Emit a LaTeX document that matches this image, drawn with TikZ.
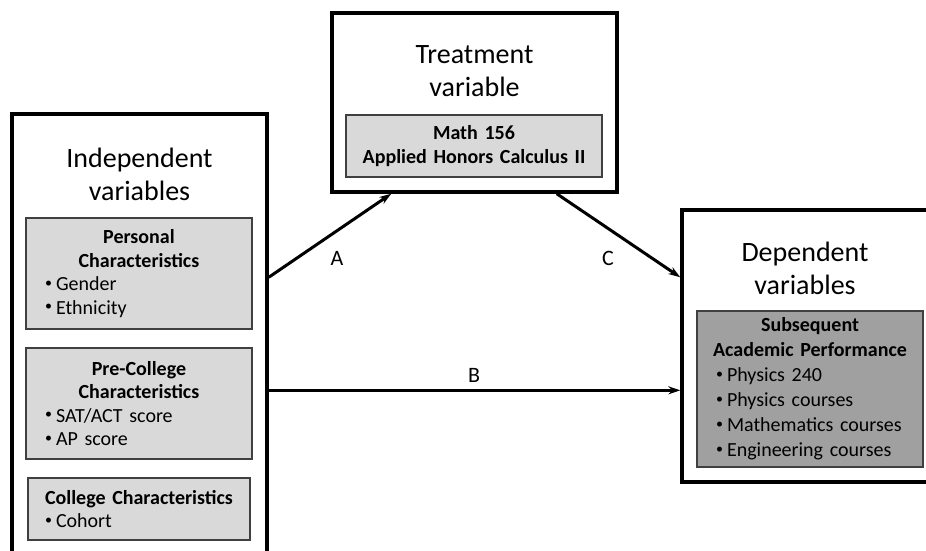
\documentclass[tikz,border=0pt]{standalone}
\usepackage{fontspec}
\setmainfont{Carlito}
\usetikzlibrary{arrows.meta}

\definecolor{boxlight}{HTML}{D9D9D9}
\definecolor{boxdark}{HTML}{A0A0A0}

% small list bullet
\newcommand{\blt}{\makebox[14pt][l]{\hspace{3pt}\raisebox{3.5pt}{\fontsize{14}{14}\selectfont•}}}

\begin{document}
\begin{tikzpicture}[x=1pt, y=-1pt,
      outerbox/.style={draw, line width=3.4pt, fill=white, inner sep=0pt},
      titletext/.style={font=\fontsize{28}{33}\selectfont, align=center},
      innerbox/.style={draw=black!75, line width=1.5pt, fill=boxlight, align=left,
        font=\fontsize{20}{23.5}\selectfont, inner xsep=16pt, inner ysep=0pt},
      flow/.style={line width=3pt, -{Stealth[length=12pt, width=8pt]}},
      pathlabel/.style={font=\fontsize{22}{26}\selectfont}
    ]

    \useasboundingbox (0,0) rectangle (926,550);
    \clip (0,0) rectangle (926,550);

    % Independent variables (runs off the bottom edge)
    \node[outerbox, minimum width=255pt, minimum height=490pt] (indep) at (139.5,359) {};
    \node[titletext] (indepT) at (139.5,174) {Independent\\variables};
    \node[innerbox, minimum width=226pt, minimum height=111pt, text width=194pt] (pers) at (139,273.5)
      {{\centering\bfseries Personal\\Characteristics\par}\blt Gender\\\blt Ethnicity\par\vspace*{6pt}};
    \node[innerbox, minimum width=226pt, minimum height=111pt, text width=194pt] (pre) at (139,403.5)
      {{\centering\bfseries Pre-College\\Characteristics\par}\blt SAT/ACT score\\\blt AP score\par\vspace*{6pt}};
    \node[innerbox, minimum width=222pt, minimum height=62pt, text width=194pt, inner xsep=14pt] (coll) at (139,509)
      {{\centering\bfseries College Characteristics\par}\blt Cohort};

    % Treatment variable
    \node[outerbox, minimum width=285pt, minimum height=179pt] (treat) at (474.5,102.5) {};
    \node[titletext] (treatT) at (474.5,71) {Treatment\\variable};
    \node[innerbox, minimum width=256pt, minimum height=62pt, text width=224pt, align=center] (math) at (474,146)
      {\bfseries Math 156\\Applied Honors Calculus II};

    % Dependent variables (runs off the right edge)
    \node[outerbox, minimum width=258pt, minimum height=272pt] (dep) at (811,346) {};
    \node[titletext] (depT) at (805,268) {Dependent\\variables};
    \node[innerbox, fill=boxdark, minimum width=226pt, minimum height=156pt, text width=194pt,
        font=\fontsize{20}{25}\selectfont] (perf) at (810,389)
      {{\centering\bfseries Subsequent\\Academic Performance\par}\blt Physics 240\\\blt Physics courses\\\blt Mathematics courses\\\blt Engineering courses};

    % Paths A, B, C
    \draw[flow] ([yshift=-165pt]indep.north east) -- ([xshift=61pt]treat.south west);
    \draw[flow] ([xshift=-62pt]treat.south east) -- ([yshift=-69pt]dep.north west);
    \draw[flow] ([yshift=-278pt]indep.north east) -- ([yshift=-182pt]dep.north west);

    \node[pathlabel] (labA) at (337,258) {A};
    \node[pathlabel] (labB) at (474,375) {B};
    \node[pathlabel] (labC) at (608,258) {C};

\end{tikzpicture}
\end{document}
